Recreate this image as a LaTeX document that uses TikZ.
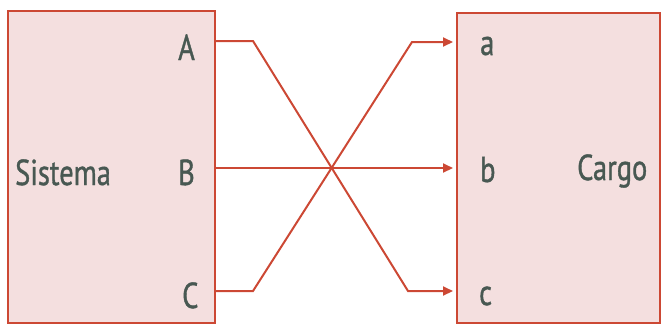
\documentclass[tikz,border=0pt]{standalone}
\usepackage{fontspec}
\setmainfont{PT Sans}
\newfontfamily\rotulo[FakeBold=1.2]{PT Sans}
\usetikzlibrary{arrows.meta,positioning}
\definecolor{LineColor}{RGB}{204,72,52}
\definecolor{BoxColor} {RGB}{244,223,223}
\definecolor{TxtColor} {RGB}{72,88,82}
\newcommand{\estrecho}[1]{\scalebox{0.79}[1]{#1}}

\begin{document}
\begin{tikzpicture}[x=1pt,y=-1pt,every node/.style={font=\rotulo\fontsize{36}{40}\selectfont,text=TxtColor},
  caja/.style={draw=LineColor,line width=2pt,fill=BoxColor,inner sep=0pt},
  letra/.style={anchor=base west,inner sep=0pt},
  flecha/.style={draw=LineColor,line width=2pt,line join=miter}]
\useasboundingbox (0,0) rectangle (661,325);
\node[caja,minimum width=207pt,minimum height=312pt] (sis) at (111.5,167) {};
\node[caja,minimum width=203pt,minimum height=310pt] (car) at (558.5,168) {};
\node[letra] (sistema) at (15,185) {\estrecho{Sistema}};
\node[letra] (A) at (178,60) {\estrecho{A}};
\node[letra] (B) at (178,185) {\estrecho{B}};
\node[letra] (C) at (182,308) {\estrecho{C}};
\node[letra] (a) at (480,55) {\estrecho{a}};
\node[letra] (b) at (480,182) {\estrecho{b}};
\node[letra] (c) at (479,305) {\estrecho{c}};
\node[letra] (cargo) at (577,180) {\estrecho{Cargo}};
\coordinate (ia) at (sis.east |- 0,41);
\coordinate (ib) at (sis.east |- 0,168);
\coordinate (ic) at (sis.east |- 0,291);
\coordinate (oa) at ([xshift=-3pt]car.west |- 0,42);
\coordinate (ob) at ([xshift=-3pt]car.west |- 0,168);
\coordinate (oc) at ([xshift=-3pt]car.west |- 0,291);
\draw[flecha,-{Triangle[length=10pt,width=9pt]}] (ia) -- ++(37,0) -- (408,291) -- (oc);
\draw[flecha,-{Triangle[length=10pt,width=9pt]}] (ib) -- (ob);
\draw[flecha,-{Triangle[length=10pt,width=9pt]}] (ic) -- ++(37,0) -- (412,42) -- (oa);
\end{tikzpicture}
\end{document}
